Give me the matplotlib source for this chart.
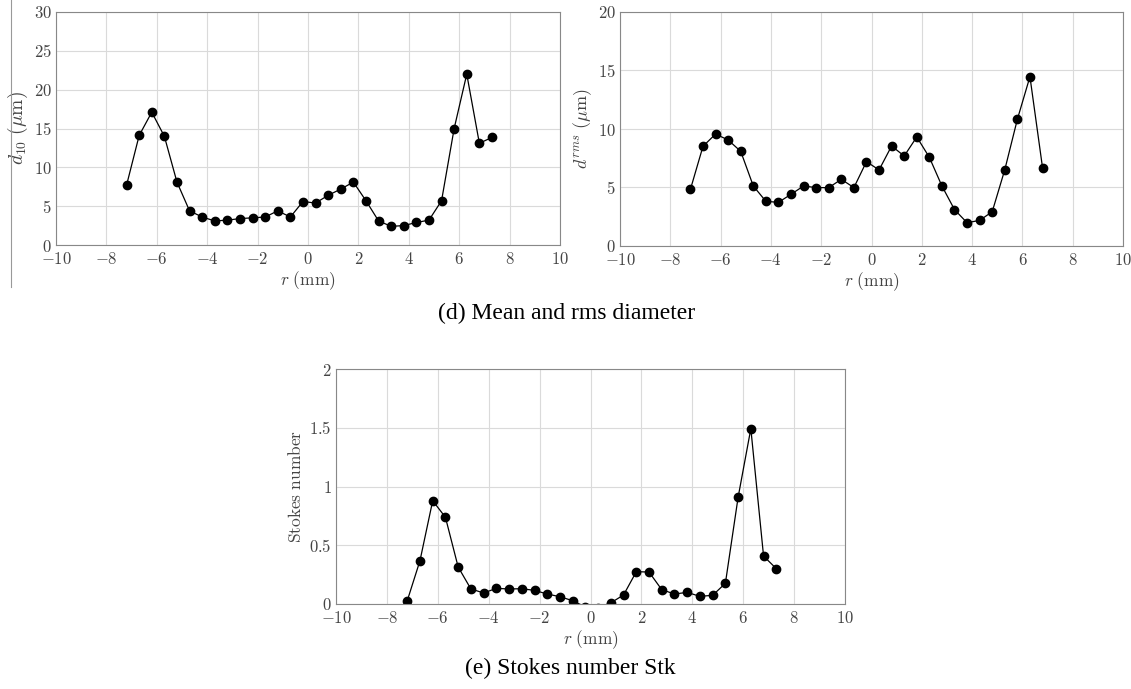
import matplotlib
matplotlib.use("Agg")
import matplotlib.pyplot as plt
from matplotlib.ticker import FuncFormatter

plt.rcParams['mathtext.fontset'] = 'cm'
plt.rcParams['font.family'] = 'serif'
plt.rcParams['font.serif'] = ['DejaVu Serif']

# radial positions (mm)
r_full = [-7.2, -6.7, -6.2, -5.7, -5.2, -4.7, -4.2, -3.7, -3.2, -2.7,
          -2.2, -1.7, -1.2, -0.7, -0.2, 0.3, 0.8, 1.3, 1.8, 2.3,
          2.8, 3.3, 3.8, 4.3, 4.8, 5.3, 5.8, 6.3, 6.8, 7.3]
r_rms = r_full[:-1]

# mean diameter d10 (um)
d10 = [7.7, 14.1, 17.1, 14.0, 8.1, 4.4, 3.6, 3.1, 3.2, 3.4,
       3.5, 3.6, 4.4, 3.6, 5.6, 5.4, 6.4, 7.2, 8.1, 5.7,
       3.1, 2.4, 2.5, 2.9, 3.2, 5.7, 15.0, 22.0, 13.1, 13.85]

# rms diameter (um)
drms = [4.84, 8.52, 9.57, 9.06, 8.09, 5.13, 3.82, 3.73, 4.42, 5.13,
        4.99, 4.99, 5.70, 4.99, 7.21, 6.50, 8.55, 7.69, 9.32, 7.58,
        5.13, 3.11, 1.99, 2.19, 2.93, 6.52, 10.83, 14.47, 6.70]

# Stokes number
stk = [0.028, 0.369, 0.879, 0.738, 0.315, 0.128, 0.094, 0.133, 0.128, 0.130,
       0.116, 0.085, 0.062, 0.028, -0.025, -0.03, 0.01, 0.077, 0.275, 0.272,
       0.122, 0.085, 0.099, 0.065, 0.074, 0.176, 0.908, 1.492, 0.408, 0.301]

W, H = 1131, 689
fig = plt.figure(figsize=(W / 100, H / 100), dpi=100)


def px_axes(x0, y0, x1, y1):
    return fig.add_axes([x0 / W, 1 - y1 / H, (x1 - x0) / W, (y1 - y0) / H])


fmt = FuncFormatter(lambda v, p: r"$%g$" % v)


def style(ax, ymax, ystep, ylabel, ylsize=11):
    ax.set_xlim(-10, 10)
    ax.set_ylim(0, ymax)
    ax.set_xticks(range(-10, 11, 2))
    yt = [i * ystep for i in range(int(round(ymax / ystep)) + 1)]
    ax.set_yticks(yt)
    ax.xaxis.set_major_formatter(fmt)
    ax.yaxis.set_major_formatter(fmt)
    ax.tick_params(length=0, labelsize=12, labelcolor='#444444')
    ax.tick_params(axis='x', pad=4)
    ax.tick_params(axis='y', pad=3)
    ax.grid(True, color='#dadada', lw=0.8)
    ax.set_axisbelow(True)
    for s in ax.spines.values():
        s.set_color('#888888')
        s.set_linewidth(0.8)
    ax.set_xlabel(r"$r\ \mathrm{(mm)}$", fontsize=12.5, color='#444444', labelpad=1)
    ax.set_ylabel(ylabel, fontsize=ylsize, color='#444444', labelpad=3)


ax1 = px_axes(56, 12, 560, 245)
ax1.plot(r_full, d10, color='black', lw=0.9, marker='o', ms=6)
style(ax1, 30, 5, r"$d_{10}\ (\mu\mathrm{m})$", ylsize=14)

ax2 = px_axes(620, 12, 1123, 246)
ax2.plot(r_rms, drms, color='black', lw=0.9, marker='o', ms=6)
style(ax2, 20, 5, r"$d^{rms}\ (\mu\mathrm{m})$", ylsize=13)

ax3 = px_axes(336, 369, 845, 604)
ax3.plot(r_full, stk, color='black', lw=0.9, marker='o', ms=6)
style(ax3, 2, 0.5, r"$\mathrm{Stokes\ number}$", ylsize=12.5)

# thin cropped line at left edge
fig.add_artist(plt.Line2D([11 / W, 11 / W], [1 - 287 / H, 1.0], color='#999999', lw=0.8))

fig.text(567 / W, 1 - 313 / H, "(d) Mean and rms diameter", ha='center', va='center',
         fontsize=17, family='Liberation Serif')
fig.text(570 / W, 1 - 668 / H, "(e) Stokes number Stk", ha='center', va='center',
         fontsize=17, family='Liberation Serif')

fig.savefig('out.png', dpi=100)
